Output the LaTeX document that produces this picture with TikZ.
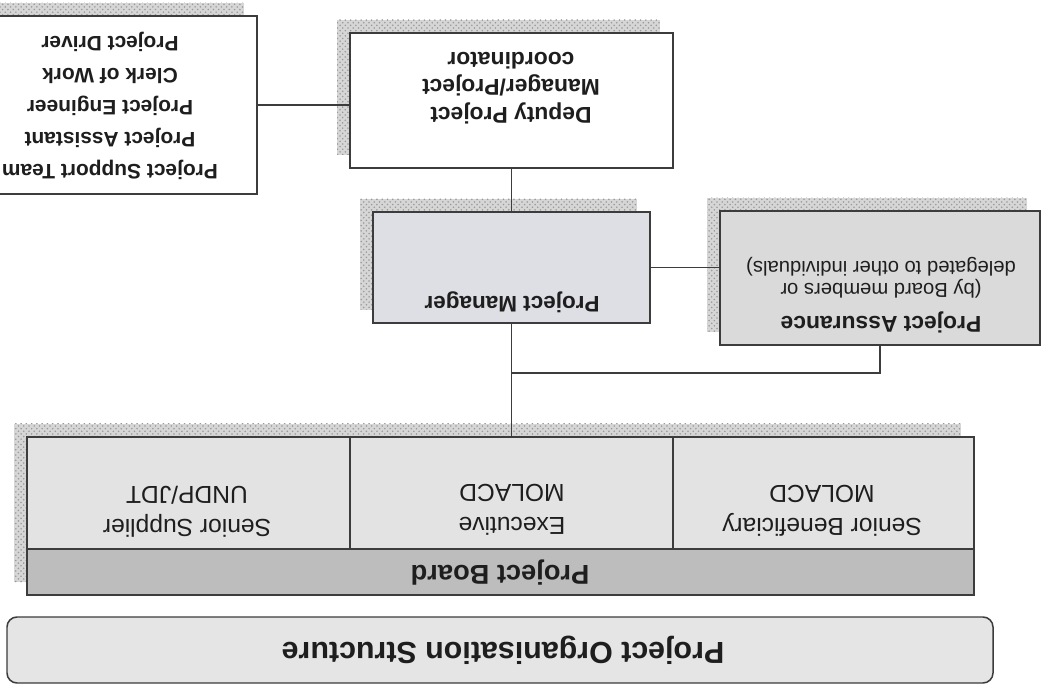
\documentclass[tikz,border=0pt]{standalone}
\usepackage{fontspec}
\setmainfont{Liberation Sans}
\usetikzlibrary{patterns,fit}
\definecolor{boxline}{HTML}{3C3C3C}
\definecolor{shadowgray}{HTML}{D6D6D6}
\definecolor{shadowdot}{HTML}{9A9A9A}
\definecolor{boardfill}{HTML}{E3E3E3}
\definecolor{headfill}{HTML}{BDBDBD}
\definecolor{pmfill}{HTML}{DEDFE4}
\definecolor{pafill}{HTML}{DADADA}
\definecolor{titlefill}{HTML}{E5E5E5}
\definecolor{inkcol}{HTML}{1E1E1E}
\tikzset{
  boxshape/.style={draw=boxline, line width=0.85pt, inner sep=0pt, rectangle},
  txt/.style={rotate=180, inner sep=0pt, align=center, text=inkcol},
  conn/.style={draw=boxline, line width=0.85pt},
  shadowbase/.style={fill=shadowgray},
  shadowdots/.style={pattern=crosshatch dots, pattern color=shadowdot}
}
\newcommand\dropshadow[4]{%
  \fill[shadowbase] (#1-13,#2-13) rectangle (#3-13,#4-13);
  \fill[shadowdots] (#1-13,#2-13) rectangle (#3-13,#4-13);}
\begin{document}
\begin{tikzpicture}[x=0.2mm,y=-0.2mm]
\useasboundingbox (0,0) rectangle (1042,687);
\clip (0,0) rectangle (1042,687);
\fill[white] (0,0) rectangle (1042,687);

% shadows
\dropshadow{-37}{16}{257}{194}
\dropshadow{350}{33}{673}{168}
\dropshadow{373}{212}{650}{323}
\dropshadow{720}{211}{1040}{345}
\dropshadow{27}{437}{974}{595}

% boxes
\node[boxshape, fill=white, fit={(-37,16) (257,194)}] (sup) {};
\node[boxshape, fill=white, fit={(350,33) (673,168)}] (dep) {};
\node[boxshape, fill=pmfill, fit={(373,212) (650,323)}] (pm) {};
\node[boxshape, fill=pafill, fit={(720,211) (1040,345)}] (pa) {};
\node[boxshape, fill=boardfill, fit={(27,437) (974,595)}] (board) {};
\node[boxshape, fill=boardfill, fit={(27,437) (350,549)}] (bsup) {};
\node[boxshape, fill=boardfill, fit={(350,437) (673,549)}] (bexe) {};
\node[boxshape, fill=boardfill, fit={(673,437) (974,549)}] (bben) {};
\node[boxshape, fill=headfill, fit={(27,549) (974,595)}] (bhead) {};
\node[boxshape, fill=titlefill, rounded corners=2mm, fit={(7,617) (993,683)}] (ttl) {};

% texts
\node[txt, font=\fontsize{11.9}{18.1}\selectfont\bfseries] (tsup) at (110,106)
  {Project Support Team\\Project Assistant\\Project Engineer\\Clerk of Work\\Project Driver};
\node[txt, font=\fontsize{13}{15.6}\selectfont\bfseries] (tdep) at (511,88)
  {Deputy Project\\Manager/Project\\coordinator};
\node[txt, font=\fontsize{12.8}{15}\selectfont\bfseries] (tpm) at (512,302) {Project Manager};
\node[txt, font=\fontsize{13}{15}\selectfont\bfseries] (tpa1) at (881,322) {Project Assurance};
\node[txt, font=\fontsize{11.5}{12.6}\selectfont] (tpa2) at (881,278)
  {(by Board members or\\delegated to other individuals)};
\node[txt, font=\fontsize{14}{18.7}\selectfont] (tss) at (187,512) {Senior Supplier\\UNDP/JDT};
\node[txt, font=\fontsize{14}{18.7}\selectfont] (tex) at (512,510) {Executive\\MOLACD};
\node[txt, font=\fontsize{14}{18.7}\selectfont] (tsb) at (822,511) {Senior Beneficiary\\MOLACD};
\node[txt, font=\fontsize{15.5}{18}\selectfont\bfseries] (tpb) at (500,573) {Project Board};
\node[txt, font=\fontsize{17.3}{20}\selectfont\bfseries] (tttl) at (503,650) {Project Organisation Structure};

% connectors
\coordinate (junc) at (511.5,373);
\draw[conn] (sup.east) -- (sup.east -| dep.west);
\draw[conn] (dep.south) -- (pm.north);
\draw[conn] (pm.east) -- (pm.east -| pa.west);
\draw[conn] (pm.south) -- (pm.south |- board.north);
\draw[conn] (pa.south) |- (junc);
\end{tikzpicture}
\end{document}
